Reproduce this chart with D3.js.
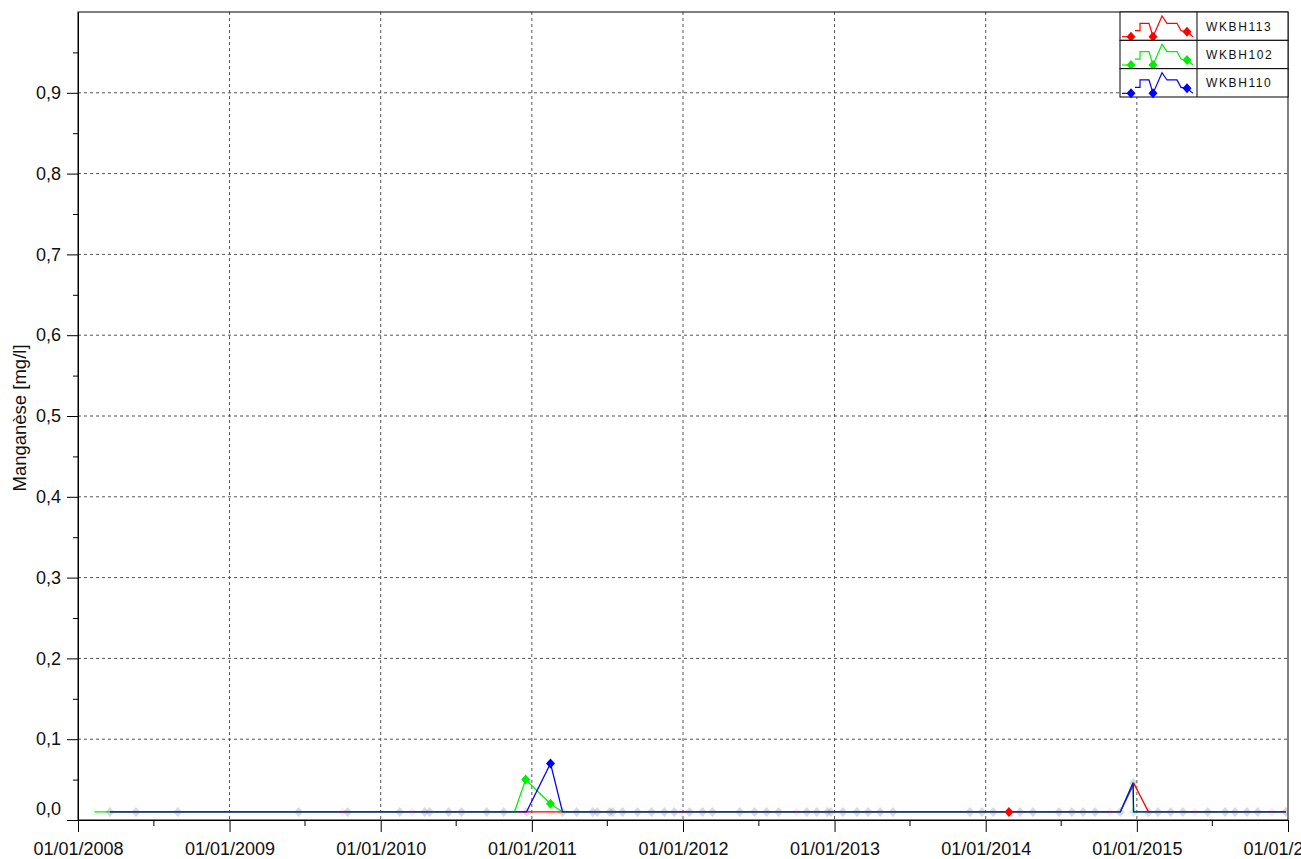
<!DOCTYPE html>
<html lang="fr">
<head>
<meta charset="UTF-8">
<title>Manganèse [mg/l]</title>
<script src="https://cdnjs.cloudflare.com/ajax/libs/d3/7.8.5/d3.min.js"></script>
<style>
  body { margin: 0; background: #fff; }
  svg { display: block; font-family: "Liberation Sans", Arial, sans-serif; }
  .grid line { stroke: #555; stroke-width: 1; stroke-dasharray: 3,3; }
  .axis path, .axis line { stroke: #000; }
  .axis text { fill: #111; }
</style>
</head>
<body>
<svg id="chart" width="1301" height="859"></svg>
<script>
// sampling dates (shared by the three wells, null = no sample for that well)
const sampleDates = [
  "2008-02-10", "2008-03-18", "2008-05-20", "2008-08-29",
  "2009-06-17", "2009-10-01", "2009-10-13",
  "2010-02-16", "2010-03-18", "2010-04-17", "2010-04-29", "2010-06-14", "2010-07-15",
  "2010-09-14", "2010-10-25", "2010-11-20", "2010-12-17", "2010-12-19",
  "2011-02-15", "2011-03-16", "2011-04-19", "2011-05-28", "2011-06-08", "2011-07-08",
  "2011-07-15", "2011-08-08", "2011-09-13", "2011-10-17", "2011-11-17", "2011-12-11", "2011-12-28",
  "2012-01-17", "2012-02-17", "2012-03-12", "2012-05-17", "2012-06-22", "2012-07-21",
  "2012-08-19", "2012-10-01", "2012-10-26", "2012-11-19", "2012-12-15", "2012-12-23",
  "2013-01-21", "2013-02-24", "2013-03-23", "2013-04-21", "2013-05-22", "2013-11-24", "2013-12-23",
  "2014-01-19", "2014-02-26", "2014-03-25", "2014-04-25", "2014-06-27", "2014-07-28",
  "2014-08-24", "2014-09-22", "2014-10-28", "2014-11-22", "2014-12-23", "2014-12-24", "2014-12-25",
  "2015-01-29", "2015-02-21", "2015-03-24", "2015-04-22", "2015-05-21", "2015-06-21",
  "2015-08-02", "2015-08-26", "2015-09-24", "2015-10-20", "2015-11-23", "2015-12-27"
];

const wkbh113 = [
  null, 0.01, 0.01, 0.01,
  0.01, 0.01, 0.01,
  0.01, 0.01, 0.01, 0.01, 0.01, 0.01,
  0.01, 0.01, null, null, 0.01,
  0.01, 0.01, 0.01, 0.01, 0.01, 0.01,
  0.01, 0.01, 0.01, 0.01, 0.01, 0.01, 0.01,
  0.01, 0.01, 0.01, 0.01, 0.01, 0.01,
  0.01, 0.01, 0.01, 0.01, 0.01, 0.01,
  0.01, 0.01, 0.01, 0.01, 0.01, 0.01, 0.01,
  0.01, 0.01, 0.01, 0.01, 0.01, 0.01,
  0.01, 0.01, 0.01, 0.01, null, null, 0.045,
  0.01, 0.01, 0.01, 0.01, 0.01, 0.01,
  0.01, 0.01, 0.01, 0.01, 0.01, 0.01
];

const wkbh102 = [
  0.01, 0.01, 0.01, 0.01,
  0.01, null, 0.01,
  0.01, null, 0.01, 0.01, 0.01, 0.01,
  0.01, 0.01, 0.01, 0.05, null,
  0.02, 0.01, 0.01, 0.01, 0.01, 0.01,
  0.01, 0.01, 0.01, 0.01, 0.01, 0.01, null,
  0.01, 0.01, 0.01, 0.01, 0.01, 0.01,
  0.01, null, 0.01, 0.01, 0.01, 0.01,
  0.01, 0.01, 0.01, 0.01, 0.01, 0.01, 0.01,
  0.01, null, 0.01, 0.01, 0.01, 0.01,
  0.01, 0.01, null, 0.01, 0.046, 0.01, null,
  0.01, 0.01, 0.01, 0.01, null, 0.01,
  0.01, 0.01, 0.01, 0.01, null, 0.01
];

const wkbh110 = [
  null, 0.01, 0.01, 0.01,
  0.01, null, 0.01,
  0.01, null, 0.01, 0.01, 0.01, 0.01,
  0.01, 0.01, null, null, 0.01,
  0.07, 0.01, 0.01, 0.01, 0.01, 0.01,
  0.01, 0.01, 0.01, 0.01, 0.01, 0.01, null,
  0.01, 0.01, 0.01, 0.01, 0.01, 0.01,
  0.01, null, 0.01, 0.01, 0.01, 0.01,
  0.01, 0.01, 0.01, 0.01, 0.01, 0.01, 0.01,
  0.01, null, 0.01, 0.01, 0.01, 0.01,
  0.01, 0.01, null, 0.01, 0.046, 0.01, null,
  0.01, 0.01, 0.01, 0.01, null, 0.01,
  0.01, 0.01, 0.01, 0.01, null, 0.01
];

// samples drawn with a full marker (the others are faint)
const solid113 = ["2014-02-26"];
const solid102 = ["2010-12-17", "2011-02-15"];
const solid110 = ["2011-02-15"];

const seriesNames = ["WKBH113", "WKBH102", "WKBH110"];
const seriesColors = ["#ff0000", "#00ee00", "#0000ff"];

const yearTicks = ["2008-01-01", "2009-01-01", "2010-01-01", "2011-01-01", "2012-01-01",
                   "2013-01-01", "2014-01-01", "2015-01-01", "2016-01-01"];
const midYearTicks = ["2008-07-01", "2009-07-01", "2010-07-01", "2011-07-01",
                      "2012-07-01", "2013-07-01", "2014-07-01", "2015-07-01"];
const yTicks = [0, 0.1, 0.2, 0.3, 0.4, 0.5, 0.6, 0.7, 0.8, 0.9];
const yMinorTicks = [0.05, 0.15, 0.25, 0.35, 0.45, 0.55, 0.65, 0.75, 0.85, 0.95];
const yTitle = "Manganèse [mg/l]";

const parse = d3.timeParse("%Y-%m-%d");
const svg = d3.select("#chart");
const plotL = 78, plotR = 1288, plotT = 12, plotB = 820;

const x = d3.scaleTime()
  .domain([parse("2008-01-01"), parse("2016-01-01")])
  .range([plotL, plotR]);
const y = d3.scaleLinear().domain([0, 1]).range([plotB, plotT]);

const fmtY = d => d3.format(".1f")(d).replace(".", ",");

// grid
const grid = svg.append("g").attr("class", "grid");
grid.selectAll(".hg").data(yTicks.filter(d => d > 0)).join("line")
  .attr("x1", plotL).attr("x2", plotR)
  .attr("y1", d => y(d)).attr("y2", d => y(d));
grid.selectAll(".vg").data(yearTicks.slice(1, -1).map(parse)).join("line")
  .attr("y1", plotT).attr("y2", plotB)
  .attr("x1", d => x(d)).attr("x2", d => x(d));

// frame
svg.append("rect")
  .attr("x", plotL).attr("y", plotT)
  .attr("width", plotR - plotL).attr("height", plotB - plotT)
  .attr("fill", "none").attr("stroke", "#000");

// series
const series = [wkbh113, wkbh102, wkbh110].map((vals, i) => ({
  name: seriesNames[i],
  color: seriesColors[i],
  solid: [solid113, solid102, solid110][i],
  points: sampleDates
    .map((d, j) => ({ date: parse(d), key: d, value: vals[j] }))
    .filter(p => p.value !== null)
}));

svg.append("clipPath").attr("id", "plotClip")
  .append("rect").attr("x", plotL).attr("y", plotT)
  .attr("width", plotR - plotL).attr("height", plotB - plotT);

const plot = svg.append("g").attr("clip-path", "url(#plotClip)");
const line = d3.line().x(d => x(d.date)).y(d => y(d.value));
const diamond = "M0,-5L4.5,0L0,5L-4.5,0Z";

series.forEach(s => {
  plot.append("path")
    .datum(s.points)
    .attr("fill", "none")
    .attr("stroke", s.color)
    .attr("stroke-width", 1.3)
    .attr("d", line);
});

series.forEach(s => {
  plot.append("g").selectAll("path")
    .data(s.points)
    .join("path")
    .attr("d", diamond)
    .attr("transform", d => `translate(${x(d.date)},${y(d.value)})`)
    .attr("fill", s.color)
    .attr("fill-opacity", d => s.solid.includes(d.key) ? 1 : 0.08);
});

// x axis
const xAxis = svg.append("g")
  .attr("class", "axis")
  .attr("transform", `translate(0,${plotB})`)
  .call(d3.axisBottom(x)
    .tickValues(yearTicks.map(parse))
    .tickFormat(d3.timeFormat("%d/%m/%Y"))
    .tickSize(12).tickPadding(10).tickSizeOuter(0));
xAxis.selectAll("text").attr("font-size", 18).attr("font-family", "Liberation Sans, Arial, sans-serif");

svg.append("g")
  .attr("class", "axis")
  .attr("transform", `translate(0,${plotB})`)
  .call(d3.axisBottom(x).tickValues(midYearTicks.map(parse)).tickFormat("").tickSize(6).tickSizeOuter(0))
  .call(g => g.select(".domain").remove());

// y axis
const yAxis = svg.append("g")
  .attr("class", "axis")
  .attr("transform", `translate(${plotL},0)`)
  .call(d3.axisLeft(y)
    .tickValues(yTicks)
    .tickFormat(fmtY)
    .tickSize(11).tickPadding(6).tickSizeOuter(0));
yAxis.selectAll("text").attr("font-size", 18).attr("font-family", "Liberation Sans, Arial, sans-serif");
yAxis.selectAll(".tick").filter(d => d === 0).select("text").attr("y", -11);

svg.append("g")
  .attr("class", "axis")
  .attr("transform", `translate(${plotL},0)`)
  .call(d3.axisLeft(y).tickValues(yMinorTicks).tickFormat("").tickSize(5).tickSizeOuter(0))
  .call(g => g.select(".domain").remove());

svg.append("text")
  .attr("transform", `translate(26,${(plotT + plotB) / 2 + 2}) rotate(-90)`)
  .attr("text-anchor", "middle")
  .attr("font-size", 18.5)
  .attr("fill", "#111")
  .text(yTitle);

// legend
const lgX = 1120, lgW = plotR - lgX, lgRow = 85 / 3, lgSplit = 77;
const legend = svg.append("g");
const glyphA = [[2, 24.7], [11, 24.7]];
const glyphB = [[15, 18.7], [20, 18.7], [20, 11.3], [29, 11.3], [33, 24.7], [42, 4], [47, 11.3],
                [57, 11.3], [61, 18.7], [67, 19.7], [73, 24.7]];
const glyphDots = [[11, 24.7], [33, 24.7], [67, 19.7]];

series.forEach((s, i) => {
  const g = legend.append("g").attr("transform", `translate(${lgX},${plotT + i * lgRow})`);
  g.append("rect").attr("width", lgW).attr("height", lgRow)
    .attr("fill", "#fff").attr("stroke", "#000");
  g.append("line").attr("x1", lgSplit).attr("x2", lgSplit)
    .attr("y1", 0).attr("y2", lgRow).attr("stroke", "#000");
  [glyphA, glyphB].forEach(pts => {
    g.append("path").attr("d", d3.line()(pts))
      .attr("fill", "none").attr("stroke", s.color).attr("stroke-width", 1.2);
  });
  g.selectAll(".dot").data(glyphDots).join("path")
    .attr("d", diamond)
    .attr("transform", d => `translate(${d[0]},${d[1]})`)
    .attr("fill", s.color);
  g.append("text")
    .attr("x", 86).attr("y", lgRow / 2 + 4.5)
    .attr("font-size", 12).attr("letter-spacing", 1.6)
    .attr("fill", "#111")
    .text(s.name);
});
</script>
</body>
</html>
